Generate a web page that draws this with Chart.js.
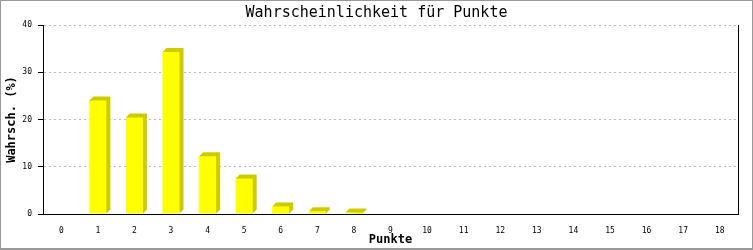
<!DOCTYPE html>
<html>
<head>
<meta charset="utf-8">
<script src="https://cdn.jsdelivr.net/npm/chart.js@4"></script>
<style>
  html, body { margin: 0; padding: 0; background: #fff; }
  canvas { display: block; }
</style>
</head>
<body>
<canvas id="myChart" width="753" height="250"></canvas>
<script>
// Werte
let punkte = ['0','1','2','3','4','5','6','7','8','9','10','11','12','13','14','15','16','17','18']
let wahrscheinlichkeit = [0, 24.0, 20.4, 34.3, 12.2, 7.5, 1.6, 0.6, 0.3, 0, 0, 0, 0, 0, 0, 0, 0, 0, 0]
let yMin = 0, yMax = 40, yStep = 10

const tiefe = 4

// 3D-Schatten hinter den Balken + Rahmen
const schatten = {
  id: 'schatten',
  beforeDatasetsDraw(chart) {
    const ctx = chart.ctx
    chart.getDatasetMeta(0).data.forEach(bar => {
      if (bar.base - bar.y < 0.5) return
      const l = bar.x - bar.width / 2, r = bar.x + bar.width / 2
      ctx.save()
      ctx.fillStyle = '#cccc00'
      ctx.beginPath()
      ctx.moveTo(l, bar.y)
      ctx.lineTo(l + tiefe, bar.y - tiefe)
      ctx.lineTo(r + tiefe, bar.y - tiefe)
      ctx.lineTo(r + tiefe, bar.base - tiefe)
      ctx.lineTo(r, bar.base)
      ctx.closePath()
      ctx.fill()
      ctx.restore()
    })
  },
  afterDraw(chart) {
    const ctx = chart.ctx
    ctx.save()
    ctx.fillStyle = '#999999'
    ctx.fillRect(0, 0, 753, 1)
    ctx.fillRect(0, 0, 1, 250)
    ctx.fillRect(752, 0, 1, 250)
    ctx.fillRect(0, 248, 753, 2)
    ctx.restore()
  }
}

const data = {
  labels: punkte,
  datasets: [{
    label: 'Wahrscheinlichkeit',
    backgroundColor: '#ffff00',
    borderWidth: 0,
    data: wahrscheinlichkeit,
    barPercentage: 0.465,
    categoryPercentage: 1
  }]
}

const config = {
  type: 'bar',
  data: data,
  plugins: [schatten],
  options: {
    responsive: false,
    animation: false,
    layout: { padding: 0 },
    plugins: {
      legend: { display: false },
      tooltip: { enabled: false },
      title: {
        display: true,
        text: 'Wahrscheinlichkeit für Punkte',
        color: '#000',
        font: { family: 'DejaVu Sans Mono', size: 15, weight: 'normal', lineHeight: 1.2 },
        padding: { top: 4, bottom: 3 }
      }
    },
    scales: {
      x: {
        grid: { display: false },
        border: { color: '#000', width: 1 },
        ticks: {
          color: '#000',
          font: { family: 'DejaVu Sans Mono', size: 8 },
          padding: 4,
          maxRotation: 0,
          autoSkip: false
        },
        title: {
          display: true,
          text: 'Punkte',
          color: '#000',
          font: { family: 'DejaVu Sans Mono', size: 12, weight: 'bold', lineHeight: 1.2 },
          padding: { top: 0, bottom: 3 }
        },
        afterFit(scale) { scale.height = 36 }
      },
      y: {
        min: yMin,
        max: yMax,
        grid: {
          color: '#bbbbbb',
          lineWidth: 1,
          tickColor: '#000',
          tickLength: 5,
          tickBorderDash: []
        },
        border: { color: '#000', width: 1, dash: [2, 3] },
        ticks: {
          stepSize: yStep,
          color: '#000',
          font: { family: 'DejaVu Sans Mono', size: 8 },
          padding: 6
        },
        title: {
          display: true,
          text: 'Wahrsch. (%)',
          color: '#000',
          font: { family: 'DejaVu Sans Mono', size: 12, weight: 'bold', lineHeight: 1.2 },
          padding: { top: 5, bottom: 5 }
        },
        afterFit(scale) { scale.width = 43 }
      },
      y2: {
        position: 'right',
        display: true,
        min: yMin,
        max: yMax,
        grid: { drawOnChartArea: false, drawTicks: false },
        border: { color: '#000', width: 1 },
        ticks: { display: false },
        afterFit(scale) { scale.width = 15 }
      }
    }
  }
}

const myChart = new Chart(document.getElementById('myChart'), config)
</script>
</body>
</html>
